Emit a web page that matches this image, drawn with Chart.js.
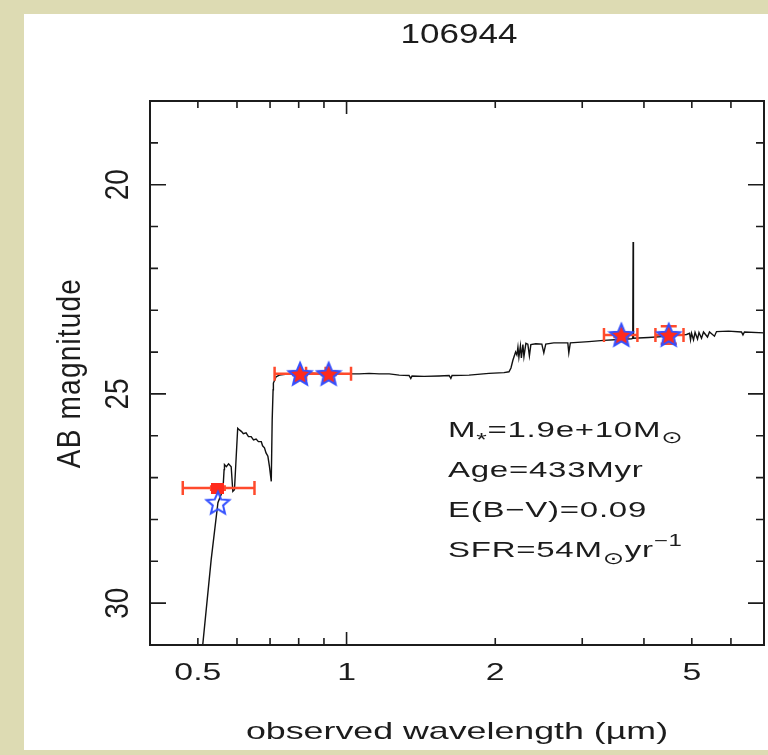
<!DOCTYPE html>
<html>
<head>
<meta charset="utf-8">
<script src="https://cdn.jsdelivr.net/npm/chart.js@4"></script>
<style>
  html, body { margin: 0; padding: 0; background: #dddbb3; }
  canvas { display: block; }
</style>
</head>
<body>
<canvas id="canvas" width="768" height="755"></canvas>
<script>
// model spectrum (observed wavelength in micron, AB magnitude)
var specWave = [0.508, 0.532, 0.549, 0.562, 0.565, 0.566, 0.571, 0.577, 0.584, 0.5885,
  0.593, 0.602, 0.607, 0.613, 0.618, 0.626, 0.633, 0.641, 0.648, 0.656,
  0.663, 0.672, 0.676, 0.682, 0.687, 0.693, 0.698, 0.704, 0.707, 0.710,
  0.711, 0.720, 0.731, 0.766, 0.802, 0.840, 0.881, 0.922, 0.967, 1.013,
  1.061, 1.111, 1.164, 1.220, 1.278, 1.338, 1.349, 1.357, 1.435, 1.539,
  1.613, 1.626, 1.635, 1.770, 1.942, 2.083, 2.132, 2.152, 2.172, 2.199,
  2.212, 2.223, 2.233, 2.249, 2.259, 2.275, 2.286, 2.307, 2.328, 2.345,
  2.361, 2.416, 2.485, 2.508, 2.531, 2.627, 2.753, 2.805, 2.818, 2.838,
  3.093, 3.317, 3.555, 3.778, 3.797, 3.803, 3.809, 4.089, 4.487, 4.879,
  4.947, 4.970, 4.994, 5.040, 5.076, 5.135, 5.170, 5.231, 5.280, 5.379,
  5.429, 5.557, 5.610, 5.932, 6.302, 6.346, 6.390, 7.0];
var specMag = [31.35, 28.96, 27.60, 27.29, 26.81, 26.69, 26.74, 26.67, 26.74, 27.33,
  27.29, 25.82, 25.86, 25.90, 25.95, 25.93, 26.02, 26.02, 26.10, 26.08,
  26.14, 26.14, 26.24, 26.29, 26.41, 26.49, 26.73, 27.09, 25.62, 24.90,
  24.74, 24.59, 24.55, 24.52, 24.55, 24.50, 24.52, 24.52, 24.51, 24.52,
  24.52, 24.51, 24.52, 24.52, 24.55, 24.56, 24.63, 24.57, 24.58, 24.57,
  24.56, 24.63, 24.56, 24.55, 24.51, 24.49, 24.47, 24.38, 24.19, 24.00,
  24.07, 23.88, 24.12, 23.85, 24.14, 23.82, 24.11, 23.79, 23.81, 24.09,
  23.82, 23.80, 23.81, 24.02, 23.81, 23.78, 23.78, 23.78, 24.02, 23.78,
  23.75, 23.72, 23.70, 23.68, 23.67, 21.37, 23.67, 23.65, 23.62, 23.58,
  23.55, 23.71, 23.55, 23.71, 23.53, 23.69, 23.53, 23.67, 23.52, 23.64,
  23.52, 23.62, 23.51, 23.50, 23.52, 23.59, 23.52, 23.54];

// photometry
var bandWave = [0.549, 0.805, 0.920, 3.60, 4.49];
var bandLo = [0.466, 0.715, 0.828, 3.32, 4.22];
var bandHi = [0.651, 0.907, 1.021, 3.88, 4.81];
var obsMag = [27.25, 24.52, 24.52, 23.59, 23.59];
var obsErr = [0.04, 0.03, 0.03, 0.05, 0.21];
var modelMag = [27.60, 24.52, 24.52, 23.59, 23.59];

// axes
var xMin = 0.4, xMax = 7;
var yMin = 18, yMax = 31;
var xLabelTicks = [0.5, 1, 2, 5];
var xMajorTicks = [1];
var xMinorTicks = [0.5, 0.6, 0.7, 0.8, 0.9, 2, 3, 4, 5, 6];
var yLabelTicks = [20, 25, 30];
var yMinorTicks = [19, 21, 22, 23, 24, 26, 27, 28, 29];

var titleText = '106944';
var xTitle = 'observed wavelength (\u00b5m)';
var yTitle = 'AB magnitude';

var FONT = '"Liberation Sans", "DejaVu Sans", Arial, sans-serif';
var INK = '#1c1c1c';
var ERR_RED = '#ff4a2c';

function makeStar(fill, stroke, R) {
  var c = document.createElement('canvas');
  var s = Math.ceil(2 * R + 4);
  c.width = s; c.height = s;
  var g = c.getContext('2d');
  var r2 = R * 0.45;
  g.beginPath();
  for (var i = 0; i < 10; i++) {
    var r = (i % 2 === 0) ? R : r2;
    var a = -Math.PI / 2 + i * Math.PI / 5;
    var px = s / 2 + r * Math.cos(a), py = s / 2 + 1 + r * Math.sin(a);
    if (i === 0) g.moveTo(px, py); else g.lineTo(px, py);
  }
  g.closePath();
  if (fill) { g.fillStyle = fill; g.fill(); }
  if (stroke) { g.strokeStyle = stroke; g.lineWidth = 2; g.stroke(); }
  return c;
}

function makeRect(fill, w, h) {
  var c = document.createElement('canvas');
  c.width = w; c.height = h;
  var g = c.getContext('2d');
  g.fillStyle = fill;
  g.fillRect(0, 0, w, h);
  return c;
}

var redStar = makeStar('#ff2a1c', null, 12);
var blueStar = makeStar(null, '#3350ff', 12);
var redSquare = makeRect('#ff2a1c', 13, 11);

function pts(xs, ys) {
  var out = [];
  for (var i = 0; i < xs.length; i++) out.push({ x: xs[i], y: ys[i] });
  return out;
}

function hText(ctx, s, x, y, size, sx, align, ls) {
  ctx.save();
  ctx.font = size + 'px ' + FONT;
  ctx.letterSpacing = (ls || 0) + 'px';
  ctx.fillStyle = INK;
  ctx.textAlign = align;
  ctx.textBaseline = 'alphabetic';
  ctx.translate(x, y);
  ctx.scale(sx, 1);
  ctx.fillText(s, 0, 0);
  ctx.restore();
}

function vText(ctx, s, x, y, size, sx, ls) {
  ctx.save();
  ctx.font = size + 'px ' + FONT;
  ctx.letterSpacing = (ls || 0) + 'px';
  ctx.fillStyle = INK;
  ctx.textAlign = 'center';
  ctx.textBaseline = 'alphabetic';
  ctx.translate(x, y);
  ctx.scale(sx, 1);
  ctx.rotate(-Math.PI / 2);
  ctx.fillText(s, 0, 0);
  ctx.restore();
}

function runText(ctx, parts, x, y, sx) {
  var cx = x;
  parts.forEach(function (p) {
    ctx.save();
    ctx.font = p.size + 'px ' + FONT;
    ctx.letterSpacing = '0.5px';
    ctx.fillStyle = INK;
    ctx.textAlign = 'left';
    ctx.textBaseline = 'alphabetic';
    var w = ctx.measureText(p.t).width;
    ctx.translate(cx, y + (p.dy || 0));
    ctx.scale(sx, 1);
    ctx.fillText(p.t, 0, 0);
    ctx.restore();
    cx += w * sx;
  });
}

var framePlugin = {
  id: 'frame',
  beforeDraw: function (chart) {
    var ctx = chart.ctx;
    ctx.save();
    ctx.fillStyle = '#dddbb3';
    ctx.fillRect(0, 0, chart.width, chart.height);
    ctx.fillStyle = '#ffffff';
    ctx.fillRect(24, 14, chart.width - 24, 736);
    ctx.restore();
  },
  afterDatasetDraw: function (chart, args) {
    if (args.index !== 2) return;
    var ctx = chart.ctx, xs = chart.scales.x, ys = chart.scales.y;
    ctx.save();
    ctx.strokeStyle = ERR_RED;
    ctx.lineWidth = 2.5;
    for (var i = 0; i < bandWave.length; i++) {
      var xl = xs.getPixelForValue(bandLo[i]);
      var xh = xs.getPixelForValue(bandHi[i]);
      var xc = xs.getPixelForValue(bandWave[i]);
      var yc = ys.getPixelForValue(obsMag[i]);
      var yt = ys.getPixelForValue(obsMag[i] - obsErr[i]);
      var yb = ys.getPixelForValue(obsMag[i] + obsErr[i]);
      ctx.beginPath();
      ctx.moveTo(xl, yc); ctx.lineTo(xh, yc);
      ctx.moveTo(xl, yc - 7); ctx.lineTo(xl, yc + 7);
      ctx.moveTo(xh, yc - 7); ctx.lineTo(xh, yc + 7);
      ctx.moveTo(xc, yt); ctx.lineTo(xc, yb);
      ctx.moveTo(xc - 8, yt); ctx.lineTo(xc + 8, yt);
      ctx.moveTo(xc - 8, yb); ctx.lineTo(xc + 8, yb);
      ctx.stroke();
    }
    ctx.restore();
  },
  afterDraw: function (chart) {
    var ctx = chart.ctx, a = chart.chartArea;
    var xs = chart.scales.x, ys = chart.scales.y;
    ctx.save();
    ctx.strokeStyle = INK;
    ctx.lineWidth = 2;
    ctx.strokeRect(a.left, a.top, a.right - a.left, a.bottom - a.top);
    ctx.lineWidth = 1.6;
    ctx.beginPath();
    xMinorTicks.forEach(function (v) {
      var px = xs.getPixelForValue(v);
      ctx.moveTo(px, a.bottom); ctx.lineTo(px, a.bottom - 7);
      ctx.moveTo(px, a.top); ctx.lineTo(px, a.top + 7);
    });
    xMajorTicks.forEach(function (v) {
      var px = xs.getPixelForValue(v);
      ctx.moveTo(px, a.bottom); ctx.lineTo(px, a.bottom - 13);
      ctx.moveTo(px, a.top); ctx.lineTo(px, a.top + 13);
    });
    yMinorTicks.forEach(function (v) {
      var py = ys.getPixelForValue(v);
      ctx.moveTo(a.left, py); ctx.lineTo(a.left + 8, py);
      ctx.moveTo(a.right, py); ctx.lineTo(a.right - 8, py);
    });
    yLabelTicks.forEach(function (v) {
      var py = ys.getPixelForValue(v);
      ctx.moveTo(a.left, py); ctx.lineTo(a.left + 16, py);
      ctx.moveTo(a.right, py); ctx.lineTo(a.right - 16, py);
    });
    ctx.stroke();
    ctx.restore();

    // tick labels
    xLabelTicks.forEach(function (v) {
      hText(ctx, String(v), xs.getPixelForValue(v), 680, 23, 1.47, 'center', 0);
    });
    yLabelTicks.forEach(function (v) {
      vText(ctx, String(v), 128, ys.getPixelForValue(v), 28, 1.17, 0);
    });

    // titles
    hText(ctx, titleText, (a.left + a.right) / 2 + 2, 43, 28, 1.25, 'center', 0);
    hText(ctx, xTitle, (a.left + a.right) / 2, 739, 24, 1.49, 'center', 0);
    vText(ctx, yTitle, 80, (a.top + a.bottom) / 2, 28, 1.17, 1.2);

    // fit results
    var sx = 1.5;
    runText(ctx, [{ t: 'M', size: 22 }, { t: '*', size: 18, dy: 9 }, { t: '=1.9e+10M', size: 22 },
      { t: '\u2299', size: 17, dy: 6 }], 448, 437, sx);
    runText(ctx, [{ t: 'Age=433Myr', size: 22 }], 448, 477, sx);
    runText(ctx, [{ t: 'E(B\u2212V)=0.09', size: 22 }], 448, 517, sx);
    runText(ctx, [{ t: 'SFR=54M', size: 22 }, { t: '\u2299', size: 17, dy: 7 }, { t: 'yr', size: 22 },
      { t: '\u22121', size: 16, dy: -11 }], 448, 557, sx);
  }
};

var ctx = document.getElementById('canvas').getContext('2d');
var chart = new Chart(ctx, {
  type: 'scatter',
  data: {
    datasets: [{
      label: 'model photometry',
      data: pts(bandWave, modelMag),
      pointStyle: blueStar,
      pointRadius: 12,
      showLine: false
    }, {
      label: 'observed',
      data: pts(bandWave, obsMag),
      pointStyle: [redSquare, redStar, redStar, redStar, redStar],
      pointRadius: 12,
      showLine: false
    }, {
      label: 'SED',
      data: pts(specWave, specMag),
      showLine: true,
      borderColor: '#111111',
      borderWidth: 1.4,
      pointRadius: 0,
      tension: 0,
      fill: false
    }]
  },
  options: {
    responsive: false,
    animation: false,
    devicePixelRatio: 1,
    layout: { autoPadding: false, padding: { left: 150, top: 101, right: 4, bottom: 110 } },
    scales: {
      x: { type: 'logarithmic', min: xMin, max: xMax, display: false },
      y: { type: 'linear', min: yMin, max: yMax, reverse: true, display: false }
    },
    plugins: {
      legend: { display: false },
      tooltip: { enabled: false },
      title: { display: false }
    }
  },
  plugins: [framePlugin]
});
</script>
</body>
</html>
